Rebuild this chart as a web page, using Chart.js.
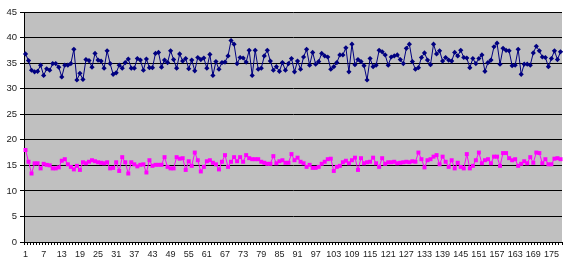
<!DOCTYPE html>
<html>
<head>
<meta charset="utf-8">
<script src="https://cdn.jsdelivr.net/npm/chart.js@4/dist/chart.umd.min.js"></script>
<style>
html,body{margin:0;padding:0;background:#fff;}
#wrap{width:566px;height:265px;position:relative;}
</style>
</head>
<body>
<div id="wrap"><canvas id="c" width="566" height="265"></canvas></div>
<script>
const categories = Array.from({length: 178}, (_, i) => String(i + 1));
const yTicks = [0, 5, 10, 15, 20, 25, 30, 35, 40, 45];
const seriesNavy = [36.8,35.5,33.6,33.3,33.4,34.6,32.6,33.9,33.6,34.9,
 34.9,34.2,32.3,34.6,34.6,34.9,37.7,31.7,33.0,31.8,
 35.7,35.5,34.2,36.9,35.6,35.4,34.0,37.4,34.9,32.8,
 33.1,34.6,34.0,35.1,35.8,34.0,34.0,35.9,35.6,33.6,
 35.8,34.1,34.1,36.9,37.1,34.2,35.6,35.1,37.4,35.7,
 34.0,36.8,35.4,35.9,33.9,35.6,33.5,36.1,35.7,36.0,
 34.0,36.7,32.6,35.3,33.8,35.1,35.2,36.4,39.4,38.7,
 34.9,36.1,36.0,35.2,37.5,32.6,37.5,33.8,34.0,36.4,
 37.5,35.4,33.6,34.3,33.4,35.1,33.6,34.9,35.9,33.3,
 35.4,33.8,36.2,37.7,34.6,37.1,34.8,35.3,36.9,36.4,
 36.2,33.8,34.3,35.1,36.6,36.6,38.0,33.3,38.7,34.7,
 35.7,35.3,34.5,31.7,35.9,34.3,34.6,37.5,37.2,36.6,
 34.6,36.2,36.4,36.6,35.7,34.9,37.9,38.7,35.3,33.8,
 34.1,36.1,37.0,35.6,34.7,38.7,36.8,37.4,35.4,36.1,
 35.6,35.4,37.1,36.4,37.5,36.1,36.0,34.1,35.9,34.9,
 35.9,36.6,33.4,35.1,35.6,38.2,38.9,34.8,37.9,37.5,
 37.4,34.5,34.6,37.7,32.8,34.8,34.8,34.6,37.0,38.3,
 37.4,36.2,36.1,34.3,35.9,37.4,35.7,37.2];
const seriesMagenta = [18.0,15.7,13.4,15.4,15.4,14.4,15.3,15.1,15.0,14.4,
 14.4,14.6,15.9,16.2,15.2,14.7,14.2,14.9,14.1,15.6,
 15.4,15.7,16.0,15.8,15.6,15.5,15.4,15.6,14.4,14.5,
 15.6,13.9,16.6,15.6,13.4,15.6,15.2,14.8,15.1,15.2,
 13.6,16.0,14.9,15.1,15.1,15.1,16.6,14.7,14.4,14.4,
 16.6,16.3,16.4,14.1,15.8,14.9,17.5,16.0,13.8,14.7,
 15.8,16.0,15.5,15.2,14.2,15.7,17.0,14.7,15.7,16.6,
 15.8,16.6,15.7,17.0,16.4,16.2,16.2,16.2,15.7,15.5,
 15.3,15.3,16.8,15.4,15.8,16.0,15.5,15.5,17.2,16.0,
 16.5,15.7,15.4,14.7,15.1,14.5,14.5,14.7,15.3,15.7,
 16.2,16.3,13.9,14.7,14.9,15.6,15.9,15.4,16.0,16.5,
 14.1,16.4,15.4,15.6,15.7,16.5,15.4,14.7,16.4,15.3,
 15.6,15.6,15.7,15.4,15.5,15.6,15.7,15.6,15.8,15.7,
 17.5,16.2,14.6,16.0,16.2,16.7,17.0,15.2,16.7,15.7,
 14.7,16.0,14.4,15.5,14.7,14.4,17.2,14.4,14.9,16.0,
 17.5,15.4,16.0,16.2,15.4,16.7,16.7,14.9,17.4,17.4,
 16.4,16.0,16.2,14.9,15.3,15.8,15.4,16.6,15.5,17.5,
 17.4,15.4,16.2,15.2,15.2,16.3,16.4,16.2];
const labelStep = 6;

const plotBg = {
  id: 'plotBg',
  beforeDraw(chart) {
    const {ctx, chartArea: a} = chart;
    ctx.save();
    ctx.fillStyle = '#c0c0c0';
    ctx.fillRect(a.left, a.top, a.right - a.left, a.bottom - a.top);
    ctx.restore();
  }
};

new Chart(document.getElementById('c'), {
  type: 'line',
  data: {
    labels: categories,
    datasets: [
      {
        data: seriesNavy,
        borderColor: '#000080',
        backgroundColor: '#000080',
        borderWidth: 1,
        pointStyle: 'rectRot',
        pointRadius: 2.6,
        pointBorderWidth: 0,
        tension: 0
      },
      {
        data: seriesMagenta,
        borderColor: '#ff00ff',
        backgroundColor: '#ff00ff',
        borderWidth: 1,
        pointStyle: 'rect',
        pointRadius: 2.8,
        pointBorderWidth: 0,
        tension: 0
      }
    ]
  },
  options: {
    responsive: false,
    animation: false,
    devicePixelRatio: 1,
    layout: {padding: {top: 12, right: 0, left: 0, bottom: 0}},
    plugins: {legend: {display: false}, tooltip: {enabled: false}},
    scales: {
      x: {
        type: 'category',
        offset: true,
        grid: {
          offset: true,
          drawOnChartArea: false,
          drawTicks: true,
          tickLength: 3,
          color: '#000',
          lineWidth: 1
        },
        border: {display: true, color: '#000', width: 1},
        ticks: {
          autoSkip: false,
          maxRotation: 0,
          minRotation: 0,
          padding: 4,
          color: '#222',
          font: {family: 'Liberation Sans, Arial, sans-serif', size: 9},
          callback: function(v, i) { return i % labelStep === 0 ? categories[i] : ''; }
        },
        afterFit(scale) { scale.height = 23; }
      },
      y: {
        min: yTicks[0],
        max: yTicks[yTicks.length - 1],
        afterBuildTicks(scale) { scale.ticks = yTicks.map(v => ({value: v})); },
        grid: {
          color: '#000',
          lineWidth: 1,
          drawTicks: true,
          tickLength: 4
        },
        border: {display: true, color: '#000', width: 1},
        ticks: {
          padding: 3,
          color: '#222',
          font: {family: 'Liberation Sans, Arial, sans-serif', size: 9.5}
        },
        afterFit(scale) { scale.width = 24; }
      }
    }
  },
  plugins: [plotBg]
});
</script>
</body>
</html>
